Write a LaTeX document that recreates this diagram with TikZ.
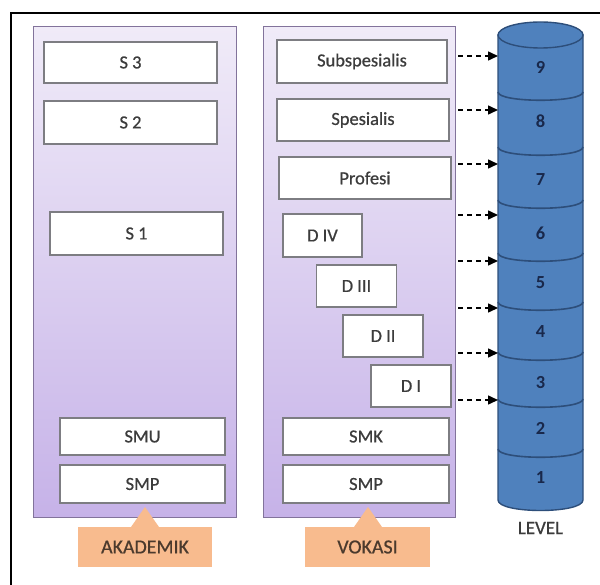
\documentclass[tikz,border=0pt]{standalone}
\usepackage{fontspec}
\setmainfont{Carlito}
\newfontfamily\medfont{Carlito}[FakeBold=0.7]
\usetikzlibrary{arrows.meta}
\definecolor{panelTop}{RGB}{240,235,248}
\definecolor{panelBot}{RGB}{198,178,232}
\definecolor{panelLine}{RGB}{130,115,155}
\definecolor{boxLine}{RGB}{125,125,130}
\definecolor{txt}{RGB}{60,60,60}
\definecolor{orangeFill}{RGB}{248,187,142}
\definecolor{orangeTxt}{RGB}{75,58,45}
\definecolor{cylFill}{RGB}{79,129,189}
\definecolor{cylLine}{RGB}{45,78,122}
\definecolor{numTxt}{RGB}{25,40,75}
\tikzset{
  panel/.style={draw=panelLine, line width=1.3bp, top color=panelTop, bottom color=panelBot, anchor=north west, inner sep=0pt},
  lvlbox/.style={draw=boxLine, line width=1.3bp, fill=white, inner sep=0pt, text=txt, font=\medfont\fontsize{18.5}{20}\selectfont},
  tag/.style={fill=orangeFill, inner sep=0pt, text=orangeTxt, font=\medfont\fontsize{20}{22}\selectfont},
  lvlnum/.style={text=numTxt, font=\fontsize{18.5}{20}\selectfont\bfseries},
  link/.style={dash pattern=on 5bp off 4bp, line width=1.5bp, -{Triangle[length=10bp,width=9bp]}}
}
\begin{document}
\begin{tikzpicture}[x=1bp,y=-1bp]
\useasboundingbox (0,0) rectangle (600,585);
% outer frame
\draw[line width=2.5bp] (11,585) -- (11,13) -- (600,13);
% panels
\node[panel, minimum width=203bp, minimum height=491bp] (akp) at (33,26) {};
\node[panel, minimum width=192bp, minimum height=491bp] (vkp) at (263,26) {};
% academic boxes
\node[lvlbox, minimum width=173bp, minimum height=41bp] (s3) at (130.5,62.5) {S 3};
\node[lvlbox, minimum width=173bp, minimum height=43bp] (s2) at (130.5,122.5) {S 2};
\node[lvlbox, minimum width=173bp, minimum height=43bp] (s1) at (136.5,233.5) {S 1};
\node[lvlbox, minimum width=165bp, minimum height=37bp] (smu) at (142.5,436.5) {SMU};
\node[lvlbox, minimum width=165bp, minimum height=38bp] (smpa) at (142.5,484) {SMP};
% vocational boxes
\node[lvlbox, minimum width=170bp, minimum height=43bp] (subsp) at (362,61.5) {Subspesialis};
\node[lvlbox, minimum width=172bp, minimum height=42bp] (sp) at (363,120) {Spesialis};
\node[lvlbox, minimum width=172bp, minimum height=42bp] (prof) at (365,178) {Profesi};
\node[lvlbox, minimum width=79bp, minimum height=43bp] (d4) at (322.5,235.5) {D IV};
\node[lvlbox, minimum width=80bp, minimum height=42bp] (d3) at (356.5,286) {D III};
\node[lvlbox, minimum width=80bp, minimum height=42bp] (d2) at (383,336) {D II};
\node[lvlbox, minimum width=80bp, minimum height=42bp] (d1) at (411,386) {D I};
\node[lvlbox, minimum width=166bp, minimum height=37bp] (smk) at (366,436.5) {SMK};
\node[lvlbox, minimum width=166bp, minimum height=38bp] (smpv) at (366,484) {SMP};
% tags with up-pointers
\fill[orangeFill] (131,527) -- (145,507) -- (159,527) -- cycle;
\fill[orangeFill] (354,527) -- (368,507) -- (382,527) -- cycle;
\node[tag, minimum width=134bp, minimum height=40bp] (akad) at (145,547) {AKADEMIK};
\node[tag, minimum width=125bp, minimum height=40bp] (vok) at (367.5,547) {VOKASI};
% cylinder
\filldraw[fill=cylFill, draw=cylLine, line width=1.4bp]
  (498,35) -- (498,500) .. controls (498,514) and (583,514) .. (583,500) -- (583,35) -- cycle;
\filldraw[fill=cylFill, draw=cylLine, line width=1.4bp] (540.5,35) ellipse [x radius=42.5, y radius=13];
\foreach \b in {92,147,200,253,302,352,399,449}{
  \draw[cylLine, line width=1.6bp] (498,\b) .. controls (498,\b+11) and (583,\b+11) .. (583,\b);
}
\node[lvlnum] (n9) at (540.5,67) {9};
\node[lvlnum] (n8) at (540.5,121) {8};
\node[lvlnum] (n7) at (540.5,180) {7};
\node[lvlnum] (n6) at (540.5,233) {6};
\node[lvlnum] (n5) at (540.5,283) {5};
\node[lvlnum] (n4) at (540.5,332) {4};
\node[lvlnum] (n3) at (540.5,383) {3};
\node[lvlnum] (n2) at (540.5,428) {2};
\node[lvlnum] (n1) at (540.5,478) {1};
\node[text=txt, font=\medfont\fontsize{19}{21}\selectfont] (lvl) at (540.5,528) {LEVEL};
% dashed links
\foreach \y [count=\i] in {56,110,164,215,261,308,353,400}{
  \coordinate (la\i) at (458,\y);
  \coordinate (lb\i) at (498,\y);
  \draw[link] (la\i) -- (lb\i);
}
\end{tikzpicture}
\end{document}
